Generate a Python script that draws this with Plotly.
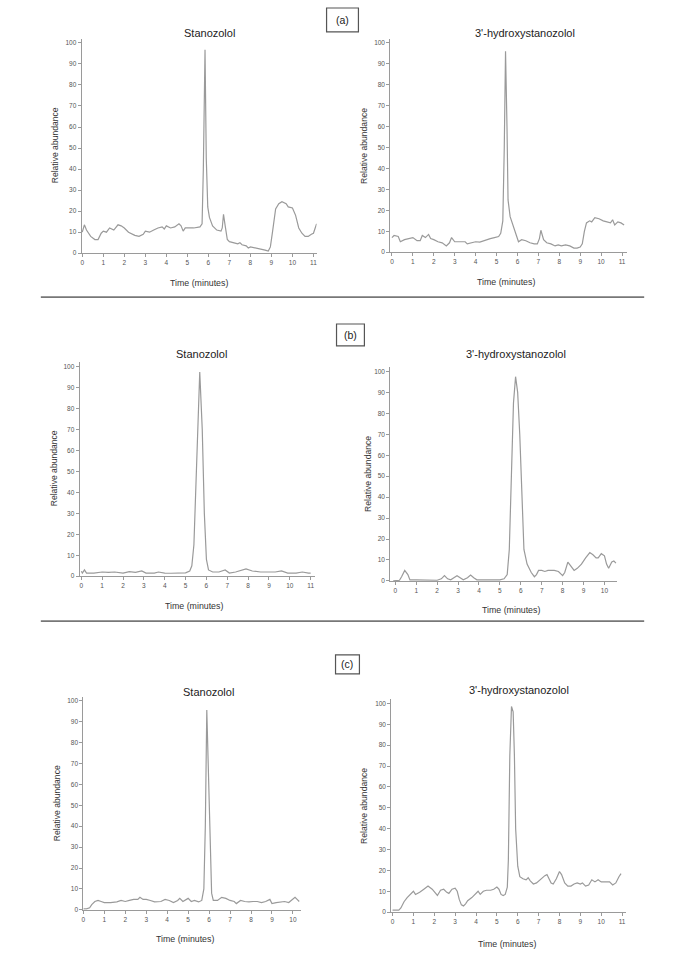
import plotly.graph_objects as go

# ---------------- data ----------------
# (a) Stanozolol
a_stan_t = [0.0, 0.1, 0.2, 0.4, 0.6, 0.75, 0.9, 1.0, 1.15, 1.3, 1.5, 1.7, 1.85, 2.0, 2.2, 2.5, 2.7, 2.9, 3.0, 3.2, 3.4,
            3.6, 3.8, 3.9, 4.0, 4.2, 4.4, 4.6, 4.7, 4.8, 4.9, 5.0, 5.3, 5.6, 5.7, 5.76, 5.84, 5.9, 5.97, 6.05, 6.2,
            6.4, 6.6, 6.66, 6.72, 6.8, 6.9, 7.0, 7.2, 7.4, 7.5, 7.6, 7.8, 7.9, 8.0, 8.3, 8.5, 8.7, 8.85, 8.95,
            9.05, 9.2, 9.35, 9.5, 9.7, 9.8, 10.0, 10.15, 10.3, 10.45, 10.6, 10.75, 10.9, 11.0, 11.15]
a_stan_y = [10, 13.5, 11, 8, 6.5, 6.5, 9.5, 10.5, 10, 12, 11, 13.5, 13, 12, 10, 8.5, 8, 9, 10.5, 10, 11,
            12, 12.5, 11.5, 13, 12, 12.5, 14, 13, 10.5, 12, 12, 12, 12.5, 14, 40, 96.7, 45, 22, 17, 13,
            11, 10.5, 12, 18.5, 13, 6.5, 5.5, 5, 4.5, 5, 4, 3.5, 2.5, 3, 2.5, 2, 1.5, 1, 3,
            10, 21, 23.5, 24.5, 23.5, 22, 21.5, 18, 12, 9.5, 8, 8, 9, 9.5, 14]

# (a) 3'-hydroxystanozolol
a_hyd_t = [0.0, 0.1, 0.3, 0.4, 0.6, 0.8, 1.0, 1.2, 1.35, 1.45, 1.6, 1.75, 1.85, 2.0, 2.2, 2.4, 2.6, 2.75, 2.85,
           3.0, 3.2, 3.5, 3.6, 3.8, 4.0, 4.2, 4.5, 4.7, 4.9, 5.1, 5.2, 5.3, 5.37, 5.43, 5.5, 5.55, 5.65, 5.8,
           5.95, 6.05, 6.2, 6.4, 6.6, 6.8, 6.95, 7.05, 7.12, 7.25, 7.4, 7.6, 7.8, 7.95, 8.1, 8.3, 8.5, 8.7,
           8.85, 9.0, 9.1, 9.2, 9.3, 9.45, 9.55, 9.7, 9.9, 10.1, 10.3, 10.45, 10.55, 10.65, 10.8, 10.95, 11.1]
a_hyd_y = [7, 8, 7.5, 5, 6, 6.5, 7, 5.5, 5.5, 8, 7, 8.5, 6.5, 6, 5, 4.5, 3, 4.5, 7,
           5, 5, 5, 4, 4.5, 5, 4.8, 6, 6.5, 7, 7.5, 9, 15, 50, 96, 60, 25, 17, 13,
           8, 5, 6, 5.5, 4.5, 4, 4, 6.5, 10.5, 6, 4.5, 4, 3, 3.5, 3, 3.5, 3, 2,
           2, 2.5, 4, 10, 14, 15, 14.5, 16.5, 16, 15, 14.5, 14, 15.5, 13, 14.5, 14, 13]

# (b) Stanozolol
b_stan_t = [0.0, 0.05, 0.15, 0.25, 0.6, 1.0, 1.3, 1.6, 2.0, 2.3, 2.6, 2.9, 3.1, 3.5, 3.7, 4.0, 4.3, 4.7, 5.0,
            5.2, 5.3, 5.4, 5.5, 5.6, 5.68, 5.8, 5.9, 6.0, 6.1, 6.3, 6.6, 6.9, 7.1, 7.4, 7.7, 7.9, 8.2, 8.6,
            9.0, 9.3, 9.6, 9.9, 10.3, 10.6, 10.9, 11.0]
b_stan_y = [2.4, 1.5, 3, 1.5, 1.5, 2, 1.8, 2, 1.5, 2.2, 1.8, 2.5, 1.5, 1.5, 2, 1.5, 1.4, 1.5, 1.6,
            2.5, 5, 15, 45, 80, 97.5, 70, 30, 8, 3, 2, 2, 3, 1.5, 2, 3, 3.5, 2.5, 2,
            2, 2, 2.5, 1.5, 1.5, 2, 1.5, 1.5]

# (b) 3'-hydroxystanozolol
b_hyd_t = [-0.1, 0.2, 0.3, 0.45, 0.6, 0.7, 1.0, 1.5, 2.0, 2.2, 2.35, 2.5, 2.65, 2.8, 2.95, 3.1, 3.25, 3.45,
           3.6, 3.75, 3.9, 4.3, 4.8, 5.0, 5.2, 5.35, 5.45, 5.55, 5.65, 5.75, 5.85, 5.95, 6.05, 6.15, 6.3,
           6.5, 6.65, 6.75, 6.85, 7.0, 7.15, 7.3, 7.6, 7.8, 8.0, 8.1, 8.25, 8.4, 8.55, 8.7, 8.9, 9.1, 9.3,
           9.45, 9.6, 9.7, 9.85, 10.0, 10.1, 10.2, 10.35, 10.45, 10.55]
b_hyd_y = [0, 0.3, 2, 5, 3, 0.5, 0.5, 0.5, 0.3, 1, 2.5, 1, 0.5, 1.5, 2.5, 1.5, 0.5, 1.5,
           2.8, 1.5, 0.5, 0.5, 0.5, 0.5, 1, 3, 15, 50, 85, 97.5, 90, 70, 40, 15, 8,
           4, 2, 3, 5, 5, 4.5, 5, 5, 4.5, 2.5, 4, 9, 7, 5, 6, 8, 11, 13.5,
           12.5, 11, 11, 13, 12, 8, 6, 9, 9.5, 8.5]

# (c) Stanozolol
c_stan_t = [0.0, 0.15, 0.3, 0.4, 0.55, 0.7, 0.85, 1.0, 1.3, 1.6, 1.8, 2.0, 2.2, 2.4, 2.6, 2.7, 2.85, 3.0, 3.2,
            3.4, 3.7, 3.9, 4.1, 4.3, 4.5, 4.6, 4.75, 4.9, 5.0, 5.15, 5.3, 5.5, 5.65, 5.75, 5.82, 5.89, 5.97,
            6.05, 6.12, 6.2, 6.4, 6.6, 6.8, 7.0, 7.2, 7.3, 7.5, 7.7, 7.9, 8.1, 8.3, 8.5, 8.7, 8.9, 9.0,
            9.2, 9.4, 9.6, 9.8, 10.0, 10.1, 10.2, 10.3]
c_stan_y = [0.5, 0.5, 1, 2.5, 4, 4.5, 4, 3.5, 3.5, 3.8, 4.5, 4, 4.5, 5, 5, 6, 5, 5, 4.5,
            3.8, 4, 5, 4.5, 3.5, 4.5, 5.5, 4, 5, 5.5, 4, 4.5, 3.8, 4.5, 10, 40, 95.5, 60,
            25, 8, 4.5, 4.5, 6, 5.5, 4.5, 4, 3, 4.5, 4, 3.8, 4, 4, 3.5, 4, 5, 3,
            3.5, 3.8, 4, 3.5, 5.5, 6, 5, 4]

# (c) 3'-hydroxystanozolol
c_hyd_t = [0.0, 0.3, 0.4, 0.55, 0.7, 0.9, 1.0, 1.1, 1.3, 1.5, 1.7, 1.9, 2.05, 2.15, 2.3, 2.45, 2.6, 2.7, 2.85,
           3.0, 3.1, 3.2, 3.3, 3.4, 3.5, 3.6, 3.8, 4.0, 4.1, 4.2, 4.35, 4.5, 4.7, 4.85, 5.0, 5.1, 5.2, 5.3,
           5.4, 5.5, 5.55, 5.62, 5.7, 5.78, 5.84, 5.9, 6.0, 6.1, 6.25, 6.4, 6.5, 6.6, 6.75, 6.9, 7.0, 7.15,
           7.3, 7.4, 7.5, 7.6, 7.7, 7.85, 8.0, 8.1, 8.25, 8.4, 8.55, 8.7, 8.85, 9.0, 9.1, 9.25, 9.4, 9.55,
           9.7, 9.85, 10.0, 10.2, 10.4, 10.55, 10.7, 10.85, 10.95]
c_hyd_y = [1, 1, 2, 5, 7, 9, 10, 8.5, 9.5, 11, 12.5, 11, 9, 8, 10.5, 11, 9.5, 9, 11,
           11.5, 10, 6, 3.5, 3, 4, 5.5, 7, 9, 10, 8.5, 10, 10.5, 10.5, 11, 12, 11, 8.5, 8,
           8.5, 12, 25, 75, 98.5, 96, 75, 40, 22, 17, 16, 15.5, 16.5, 15, 13.5, 14, 15, 16,
           17.5, 18, 16, 14, 13.5, 16, 19.5, 18, 14, 12.5, 12.5, 13.5, 14, 13.5, 14, 12.5, 13, 15.5,
           14.5, 15.5, 14.5, 14.5, 14.5, 13, 14, 17, 18.5]

titles = ["Stanozolol", "3'-hydroxystanozolol"]
y_ticks = [0, 10, 20, 30, 40, 50, 60, 70, 80, 90, 100]
x_ticks_11 = list(range(0, 12))
x_ticks_10 = list(range(0, 11))
panel_labels = ["(a)", "(b)", "(c)"]

# ---------------- layout geometry (pixels) ----------------
W, H = 685, 969
FONT = "Liberation Sans, Arial, sans-serif"
LINE = "#9a9a9a"
AXC = "#9a9a9a"
TXT = "#555555"


def fx(px):
    return px / W


def fy(py):
    return 1 - py / H


panels = [
    dict(t=a_stan_t, y=a_stan_y, box=(80, 316, 39, 254), xr=(-0.03, 11.15), ytop=101.9, xt=x_ticks_11,
         title=titles[0], tpos=(208, 33), xlab=(198, 284), ylab=(53, 146)),
    dict(t=a_hyd_t, y=a_hyd_y, box=(390, 628, 39.5, 253), xr=(-0.08, 11.25), ytop=101.7, xt=x_ticks_11,
         title=titles[1], tpos=(525, 33), xlab=(506, 283), ylab=(363, 146)),
    dict(t=b_stan_t, y=b_stan_y, box=(78, 314, 363.5, 578), xr=(-0.08, 11.19), ytop=102.1, xt=x_ticks_11,
         title=titles[0], tpos=(200, 355), xlab=(193, 608), ylab=(52, 470)),
    dict(t=b_hyd_t, y=b_hyd_y, box=(390, 617.5, 368, 582.7), xr=(-0.24, 10.59), ytop=102.2, xt=x_ticks_10,
         title=titles[1], tpos=(516, 355), xlab=(511, 611.5), ylab=(367, 475)),
    dict(t=c_stan_t, y=c_stan_y, box=(81.7, 300, 699, 912.7), xr=(0.0, 10.37), ytop=101.8, xt=x_ticks_10,
         title=titles[0], tpos=(207, 694), xlab=(184, 941.5), ylab=(55, 806)),
    dict(t=c_hyd_t, y=c_hyd_y, box=(391, 627, 701, 915), xr=(-0.06, 11.2), ytop=102.2, xt=x_ticks_11,
         title=titles[1], tpos=(519, 692.5), xlab=(507, 946.5), ylab=(364, 808)),
]

fig = go.Figure()
layout = dict(
    width=W, height=H, margin=dict(l=0, r=0, t=0, b=0),
    paper_bgcolor="white", plot_bgcolor="white", showlegend=False,
    font=dict(family=FONT, color=TXT),
)
annotations = []
shapes = []

for i, p in enumerate(panels, start=1):
    xa = "x" if i == 1 else f"x{i}"
    ya = "y" if i == 1 else f"y{i}"
    fig.add_trace(go.Scatter(x=p["t"], y=p["y"], mode="lines", xaxis=xa, yaxis=ya,
                             line=dict(color=LINE, width=1.2), hoverinfo="skip"))
    x0, x1, yt, yb = p["box"]
    common = dict(showgrid=False, zeroline=False, showline=True, linecolor=AXC, linewidth=1,
                  ticks="outside", ticklen=3, tickcolor=AXC, tickwidth=1,
                  tickfont=dict(family=FONT, size=6.5, color=TXT), fixedrange=True)
    layout["xaxis" if i == 1 else f"xaxis{i}"] = dict(
        domain=[fx(x0), fx(x1)], range=list(p["xr"]), anchor=ya,
        tickmode="array", tickvals=p["xt"], ticktext=[str(v) for v in p["xt"]], **common)
    layout["yaxis" if i == 1 else f"yaxis{i}"] = dict(
        domain=[fy(yb), fy(yt)], range=[0, p["ytop"]], anchor=xa,
        tickmode="array", tickvals=y_ticks, ticktext=[str(v) for v in y_ticks], **common)
    annotations.append(dict(text=p["title"], x=fx(p["tpos"][0]), y=fy(p["tpos"][1]), xref="paper", yref="paper",
                            showarrow=False, xanchor="center", yanchor="middle",
                            font=dict(family=FONT, size=11, color="#222222")))
    annotations.append(dict(text="Time (minutes)", x=fx(p["xlab"][0]), y=fy(p["xlab"][1]), xref="paper",
                            yref="paper", showarrow=False, xanchor="center", yanchor="middle",
                            font=dict(family=FONT, size=8.8, color="#333333")))
    annotations.append(dict(text="Relative abundance", x=fx(p["ylab"][0]), y=fy(p["ylab"][1]), xref="paper",
                            yref="paper", showarrow=False, xanchor="center", yanchor="middle", textangle=-90,
                            font=dict(family=FONT, size=8.6, color="#333333")))

label_boxes = [(326, 358, 8, 32), (336, 364, 325, 347), (335, 359, 657, 676)]
for lab, (bx0, bx1, by0, by1) in zip(panel_labels, label_boxes):
    shapes.append(dict(type="rect", xref="paper", yref="paper", x0=fx(bx0), x1=fx(bx1), y0=fy(by1), y1=fy(by0),
                       line=dict(color="#555555", width=1.2), fillcolor="white"))
    annotations.append(dict(text=lab, x=fx((bx0 + bx1) / 2), y=fy((by0 + by1) / 2), xref="paper", yref="paper",
                            showarrow=False, xanchor="center", yanchor="middle",
                            font=dict(family=FONT, size=10.5, color="#222222")))

for sy in (298, 623):
    shapes.append(dict(type="line", xref="paper", yref="paper", x0=fx(39), x1=fx(645), y0=fy(sy), y1=fy(sy),
                       line=dict(color="#777777", width=1.8)))

layout["annotations"] = annotations
layout["shapes"] = shapes
fig.update_layout(**layout)
fig.write_html("out.html", config={"displayModeBar": False, "staticPlot": True},
               post_script="document.body.style.margin='0px';document.body.style.overflow='hidden';")
